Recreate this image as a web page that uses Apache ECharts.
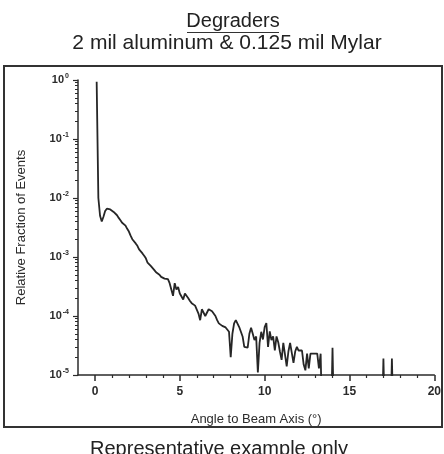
<!DOCTYPE html>
<html>
<head>
<meta charset="utf-8">
<script src="https://cdn.jsdelivr.net/npm/echarts@6/dist/echarts.min.js"></script>
<style>
  html, body { margin: 0; padding: 0; background: #fff; }
  #chart { width: 444px; height: 454px; }
</style>
</head>
<body>
<div id="chart"></div>
<script>
// angle bins (deg) and relative fraction of events
// 0 means an empty bin (drawn below the log floor)
const angles = [
  0.1, 0.2, 0.3, 0.4, 0.5, 0.6, 0.7, 0.8, 0.9, 1.0,
  1.1, 1.2, 1.3, 1.4, 1.5, 1.6, 1.7, 1.8, 1.9, 2.0,
  2.1, 2.2, 2.3, 2.4, 2.5, 2.6, 2.7, 2.8, 2.9, 3.0,
  3.1, 3.2, 3.3, 3.4, 3.5, 3.6, 3.7, 3.8, 3.9, 4.0,
  4.1, 4.2, 4.3, 4.4, 4.5, 4.6, 4.7, 4.8, 4.9, 5.0,
  5.1, 5.2, 5.3, 5.4, 5.5, 5.6, 5.7, 5.8, 5.9, 6.0,
  6.1, 6.2, 6.3, 6.4, 6.5, 6.6, 6.7, 6.8, 6.9, 7.0,
  7.1, 7.2, 7.3, 7.4, 7.5, 7.6, 7.7, 7.8, 7.9, 8.0,
  8.1, 8.2, 8.3, 8.4, 8.5, 8.6, 8.7, 8.8, 8.9, 9.0,
  9.1, 9.2, 9.3, 9.4, 9.5, 9.6, 9.7, 9.8, 9.9, 10.0,
  10.1, 10.2, 10.3, 10.4, 10.5, 10.6, 10.7, 10.8, 10.9, 11.0,
  11.1, 11.2, 11.3, 11.4, 11.5, 11.6, 11.7, 11.8, 11.9, 12.0,
  12.1, 12.2, 12.3, 12.4, 12.5, 12.6, 12.7, 12.8, 12.9, 13.0,
  13.1, 13.2, 13.3, 13.4, 13.9, 14.0, 14.1, 16.9, 17.0, 17.1,
  17.4, 17.5, 17.6
];
const fractions = [
  9.3e-1, 1.0e-2, 5.0e-3, 4.0e-3, 4.8e-3, 6.0e-3, 6.6e-3, 6.8e-3, 6.4e-3, 6.0e-3,
  5.8e-3, 5.4e-3, 5.1e-3, 4.6e-3, 4.2e-3, 3.8e-3, 3.6e-3, 3.4e-3, 3.0e-3, 2.7e-3,
  2.3e-3, 2.0e-3, 1.85e-3, 1.7e-3, 1.55e-3, 1.35e-3, 1.3e-3, 1.15e-3, 1.05e-3, 9.5e-4,
  8.0e-4, 7.8e-4, 7.0e-4, 6.8e-4, 6.0e-4, 5.5e-4, 5.6e-4, 5.0e-4, 4.6e-4, 4.9e-4,
  4.3e-4, 4.0e-4, 4.2e-4, 3.6e-4, 3.4e-4, 2.2e-4, 3.6e-4, 2.8e-4, 3.1e-4, 2.4e-4,
  2.5e-4, 1.9e-4, 2.4e-4, 2.3e-4, 2.0e-4, 1.8e-4, 1.65e-4, 1.6e-4, 1.5e-4, 1.4e-4,
  1.1e-4, 8.5e-5, 1.3e-4, 1.4e-4, 1.0e-4, 9.5e-5, 1.3e-4, 1.4e-4, 1.2e-4, 1.15e-4,
  1.0e-4, 8.5e-5, 7.5e-5, 7.0e-5, 6.8e-5, 6.5e-5, 6.4e-5, 6.0e-5, 5.4e-5, 2.0e-5,
  5.0e-5, 7.5e-5, 8.5e-5, 8.0e-5, 6.5e-5, 6.4e-5, 4.5e-5, 3.0e-5, 3.2e-5, 2.9e-5,
  5.0e-5, 6.3e-5, 5.0e-5, 3.9e-5, 4.5e-5, 1.1e-5, 3.5e-5, 5.4e-5, 4.0e-5, 6.5e-5,
  7.6e-5, 3.0e-5, 5.5e-5, 3.9e-5, 4.5e-5, 2.6e-5, 4.5e-5, 3.6e-5, 2.5e-5, 1.8e-5,
  3.5e-5, 3.6e-5, 1.4e-5, 2.5e-5, 3.5e-5, 3.4e-5, 1.6e-5, 2.5e-5, 3.0e-5, 2.6e-5,
  2.8e-5, 2.6e-5, 1.5e-5, 1.2e-5, 2.3e-5, 1.3e-5, 2.3e-5, 2.3e-5, 2.3e-5, 2.3e-5,
  2.3e-5, 1.3e-5, 2.3e-5, 0, 0, 2.9e-5, 0, 0, 1.9e-5, 0,
  0, 1.9e-5, 0
];

const xLabelTicks = [0, 5, 10, 15, 20];
const xMinorTicks = [1, 2, 3, 4, 6, 7, 8, 9, 11, 12, 13, 14, 16, 17, 18, 19];
const yMinorTicks = [];
for (let p = -5; p < 0; p++) {
  for (let m = 2; m <= 9; m++) yMinorTicks.push(m * Math.pow(10, p));
}

const FONT = '"Liberation Sans", Arial, sans-serif';
const INK = '#2b2b2b';

const chart = echarts.init(document.getElementById('chart'));

chart.setOption({
  animation: false,
  backgroundColor: '#fff',
  grid: { left: 78, right: 8, top: 80, bottom: 79, containLabel: false },
  graphic: [
    {
      type: 'rect', z: -1,
      shape: { x: 4, y: 66, width: 438, height: 361 },
      style: { fill: 'none', stroke: '#333', lineWidth: 2 }
    },
    {
      type: 'text', x: 233, y: 11,
      style: { text: 'Degraders', fill: '#222', font: '20px ' + FONT, align: 'center', verticalAlign: 'top' }
    },
    {
      type: 'line',
      shape: { x1: 187, y1: 32.5, x2: 279, y2: 32.5 },
      style: { stroke: '#333', lineWidth: 1 }
    },
    {
      type: 'text', x: 227, y: 33,
      style: { text: '2 mil aluminum & 0.125 mil Mylar', fill: '#222', font: '21px ' + FONT, align: 'center', verticalAlign: 'top' }
    },
    {
      type: 'text', x: 219, y: 439,
      style: { text: 'Representative example only', fill: '#222', font: '20px ' + FONT, align: 'center', verticalAlign: 'top' }
    }
  ],
  xAxis: [
    {
      type: 'value', min: -1, max: 20, interval: 1,
      name: 'Angle to Beam Axis (°)',
      nameLocation: 'middle', nameGap: 38,
      nameTextStyle: { fontFamily: FONT, fontSize: 13, color: INK },
      axisLine: { onZero: false, lineStyle: { color: INK, width: 1.5 } },
      axisTick: { length: 3, lineStyle: { color: INK, width: 1.2 }, customValues: xMinorTicks },
      axisLabel: { customValues: xLabelTicks, margin: 11, fontFamily: FONT, fontSize: 12, fontWeight: 'bold', color: INK },
      splitLine: { show: false }
    },
    {
      type: 'value', min: -1, max: 20, position: 'bottom', offset: 0,
      axisLine: { show: false, onZero: false },
      axisTick: { length: 6, lineStyle: { color: INK, width: 1.5 }, customValues: xLabelTicks },
      axisLabel: { show: false },
      splitLine: { show: false }
    }
  ],
  yAxis: [
    {
      type: 'log', logBase: 10, min: 1e-5, max: 1,
      name: 'Relative Fraction of Events',
      nameLocation: 'middle', nameGap: 50,
      nameTextStyle: { fontFamily: FONT, fontSize: 13, color: INK },
      axisLine: { show: true, onZero: false, lineStyle: { color: INK, width: 1.5 } },
      axisTick: { length: 5, lineStyle: { color: INK, width: 1.2 } },
      axisLabel: {
        margin: 9,
        formatter: (v) => '{b|10}{s|' + Math.round(Math.log10(v)) + '}',
        rich: {
          b: { fontFamily: FONT, fontSize: 11, fontWeight: 'bold', color: INK },
          s: { fontFamily: FONT, fontSize: 7, fontWeight: 'bold', color: INK, padding: [0, 0, 8, 1] }
        }
      },
      splitLine: { show: false }
    },
    {
      type: 'log', logBase: 10, min: 1e-5, max: 1, position: 'left', offset: 0,
      axisLine: { show: false, onZero: false },
      axisTick: { length: 3, lineStyle: { color: INK, width: 1 }, customValues: yMinorTicks },
      axisLabel: { show: false },
      splitLine: { show: false }
    }
  ],
  series: [
    {
      type: 'line',
      xAxisIndex: 0, yAxisIndex: 0,
      showSymbol: false, symbol: 'none',
      clip: true,
      lineStyle: { color: '#262626', width: 1.8 },
      // empty bins are pushed below the 1e-5 floor so the line drops off the axis
      data: angles.map((a, i) => [a, fractions[i] > 0 ? fractions[i] : 1e-6])
    }
  ]
});
</script>
</body>
</html>
